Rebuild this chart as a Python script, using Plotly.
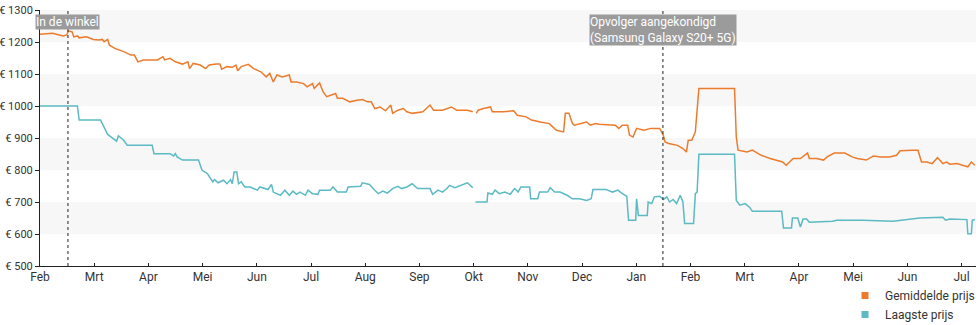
import pandas as pd
import plotly.graph_objects as go

# Price history, days counted from the first axis tick (February)
START = pd.Timestamp("2019-02-01")

avg_days = [0, 4, 7, 13, 15, 16, 18, 19, 21, 22, 26, 30, 33, 35, 36, 38, 39, 42, 47, 51,
            53, 55, 58, 66, 69, 70, 73, 76, 80, 83, 84, 86, 90, 93, 95, 99, 101, 102, 105, 108,
            110, 111, 113, 117, 120, 124, 127, 129, 131, 133, 136, 140, 141, 144, 148, 150, 153, 154, 157, 159,
            161, 166, 167, 170, 174, 178, 181, 184, 186, 188, 191, 194, 197, 198, 201, 204, 206, 209, 215, 219,
            221, 226, 231, 234, 240, 243, 243.5, 245, 246, 249, 253, 254, 257, 260, 266, 268, 273, 276, 281, 286,
            290, 294, 295, 297, 299, 300, 307, 309, 312, 314, 323, 325, 327, 330, 331, 333, 335, 339, 343, 348,
            350, 351, 353, 358, 361, 363, 364, 366, 368, 370, 390, 391, 392, 397, 400, 405, 410, 417, 419, 423,
            427, 431, 432, 436, 440, 442, 446, 452, 456, 459, 464, 468, 472, 477, 481, 483, 490, 493, 495, 498,
            501, 504, 507, 509, 511, 515, 518, 521, 523, 525]
avg_price = [1224, 1227, 1227, 1219, 1222, 1235, 1232, 1216, 1219, 1213, 1216, 1208, 1206, 1208, 1201, 1208, 1190, 1180, 1170, 1159,
             1159, 1138, 1144, 1144, 1154, 1144, 1149, 1138, 1131, 1138, 1117, 1133, 1128, 1117, 1128, 1131, 1131, 1115, 1123, 1121,
             1128, 1110, 1123, 1130, 1117, 1107, 1091, 1102, 1075, 1097, 1091, 1097, 1075, 1075, 1070, 1060, 1070, 1055, 1072, 1044,
             1029, 1039, 1024, 1024, 1013, 1018, 1020, 1013, 1013, 992, 997, 985, 1003, 977, 987, 992, 982, 977, 982, 1003,
             987, 987, 997, 987, 987, 982, None, 977, 987, 992, 997, 982, 982, 982, 985, 971, 966, 956, 950, 945,
             924, 919, 977, 977, 945, 940, 950, 940, 945, 943, 940, 930, 940, 940, 909, 903, 930, 924, 930, 930,
             909, 888, 883, 877, 867, 856, 893, 893, 919, 1055, 1055, 903, 862, 856, 862, 846, 836, 825, 815, 836,
             836, 853, 836, 836, 831, 841, 853, 853, 841, 836, 831, 844, 841, 841, 846, 860, 862, 862, 825, 825,
             820, 839, 820, 825, 818, 820, 815, 810, 825, 815]

low_days = [0, 21, 22, 34, 35, 38, 40, 43, 44, 47, 49, 63, 64, 73, 75, 76, 77, 80, 89, 91,
            94, 97, 98, 100, 103, 105, 107, 108, 109, 110.5, 111.5, 113, 115, 118, 122, 123.5, 128, 130, 131, 135,
            137.5, 140, 142, 144, 146, 149, 150.5, 153, 156, 157, 163, 164.5, 167, 172, 173, 180, 181, 185, 188, 190,
            192.5, 195, 198, 201, 203, 206, 209, 212, 219, 220.5, 223.5, 226, 228.5, 230, 233, 236, 240, 243, 243.5, 244.5,
            251, 251.5, 254, 255.5, 258, 261, 264, 266.5, 268.5, 270, 275, 275.5, 279.5, 280.5, 285, 286.5, 289, 292,
            296, 299, 303, 307, 309.5, 310.5, 318, 321.5, 324.5, 327, 329.5, 330.5, 334.5, 335, 336, 341, 341.5, 343.5,
            345, 348, 350, 352, 353.5, 355.5, 357.5, 359.5, 361, 362, 367, 368, 369, 370, 390, 391, 393, 396,
            398.5, 400, 416.5, 417.5, 422, 422.5, 425.5, 427, 428.5, 430.5, 432, 445, 447.5, 462, 479, 494, 507, 508.5,
            511, 520.5, 521, 523, 523.5, 525]
low_price = [1000, 1000, 956, 956, 945, 911, 903, 890, 907, 893, 877, 877, 851, 851, 844, 851, 841, 831, 831, 799,
             789, 763, 770, 760, 768, 757, 770, 757, 794, 794, 757, 763, 747, 747, 737, 747, 739, 755, 731, 721,
             737, 721, 734, 724, 731, 721, 737, 726, 724, 737, 737, 747, 731, 731, 747, 749, 760, 755, 737, 726,
             734, 728, 742, 749, 742, 747, 757, 742, 742, 724, 737, 731, 742, 752, 745, 752, 760, 745, None, 700,
             700, 728, 724, 737, 726, 731, 724, 742, 731, 747, 747, 710, 710, 731, 731, 745, 731, 731,
             721, 710, 710, 705, 710, 739, 739, 731, 737, 726, 718, 643, 643, 710, 658, 658, 700, 695,
             716, 718, 708, 716, 700, 708, 695, 721, 700, 633, 633, 726, 731, 849, 849, 705, 690, 695,
             683, 671, 671, 619, 619, 650, 650, 622, 647, 647, 637, 640, 643, 643, 640, 650, 652, 643,
             647, 645, 601, 601, 643, 645]

month_labels = ["Feb", "Mrt", "Apr", "Mei", "Jun", "Jul", "Aug", "Sep", "Okt",
                "Nov", "Dec", "Jan", "Feb", "Mrt", "Apr", "Mei", "Jun", "Jul"]
price_ticks = [500, 600, 700, 800, 900, 1000, 1100, 1200, 1300]

events = [(15.7, "In de winkel"),
          (349.8, "Opvolger aangekondigd<br>(Samsung Galaxy S20+ 5G)")]

ORANGE = "#ec7b2c"
TEAL = "#5bbac3"
FONT = "Roboto"
MONTH_DAYS = 30.44


def to_dates(days):
    return [START + pd.to_timedelta(d, unit="D") for d in days]


fig = go.Figure()
fig.add_trace(go.Scatter(x=to_dates(avg_days), y=avg_price, mode="lines",
                         line=dict(color=ORANGE, width=1.5), showlegend=False,
                         name="Gemiddelde prijs", connectgaps=False))
fig.add_trace(go.Scatter(x=to_dates(low_days), y=low_price, mode="lines",
                         line=dict(color=TEAL, width=1.5), showlegend=False,
                         name="Laagste prijs", connectgaps=False))
# square legend swatches
for name, color in [("Gemiddelde prijs", ORANGE), ("Laagste prijs", TEAL)]:
    fig.add_trace(go.Scatter(x=[None], y=[None], mode="markers", name=name,
                             marker=dict(symbol="square", size=7, color=color)))

shapes = []
# alternating horizontal bands
for lo in (600, 800, 1000, 1200):
    shapes.append(dict(type="rect", xref="paper", x0=0, x1=1, yref="y", y0=lo, y1=lo + 100,
                       fillcolor="#f7f7f7", line=dict(width=0), layer="below"))
annotations = []
for day, label in events:
    xd = START + pd.to_timedelta(day, unit="D")
    shapes.append(dict(type="line", xref="x", x0=xd, x1=xd, yref="paper", y0=0, y1=1,
                       line=dict(color="#222222", width=1, dash="dot")))
    annotations.append(dict(x=xd, xref="x", y=1, yref="paper", yanchor="top", yshift=-4,
                            xanchor="center", text=label, showarrow=False, align="left",
                            font=dict(family=FONT, size=12, color="white"),
                            bgcolor="rgba(150,150,150,0.95)", borderpad=0))

tickvals = [START + pd.to_timedelta(k * MONTH_DAYS, unit="D") for k in range(len(month_labels))]

fig.update_layout(
    width=980, height=325,
    margin=dict(l=40, r=4, t=10, b=59, autoexpand=False),
    paper_bgcolor="white", plot_bgcolor="white",
    font=dict(family=FONT, size=12, color="#333333"),
    shapes=shapes, annotations=annotations,
    legend=dict(xref="container", yref="container", x=1, xanchor="right",
                y=1 - 281 / 325, yanchor="top",
                font=dict(family=FONT, size=12, color="#333333"),
                bgcolor="rgba(0,0,0,0)", tracegroupgap=0, itemwidth=30),
    xaxis=dict(type="date",
               range=[START, START + pd.to_timedelta(525.6, unit="D")],
               tickmode="array", tickvals=tickvals, ticktext=month_labels,
               showgrid=False, zeroline=False, showline=True, linecolor="#222222", linewidth=1,
               ticks="inside", ticklen=3, tickcolor="#222222", automargin=False),
    yaxis=dict(range=[500, 1300], tickmode="array", tickvals=price_ticks,
               ticktext=[f"€ {v}" for v in price_ticks], tickfont=dict(size=11),
               showgrid=False, zeroline=False, showline=True, linecolor="#222222", linewidth=1,
               ticks="outside", ticklen=4, tickcolor="#222222", automargin=False),
)

fig.write_html("out.html")
